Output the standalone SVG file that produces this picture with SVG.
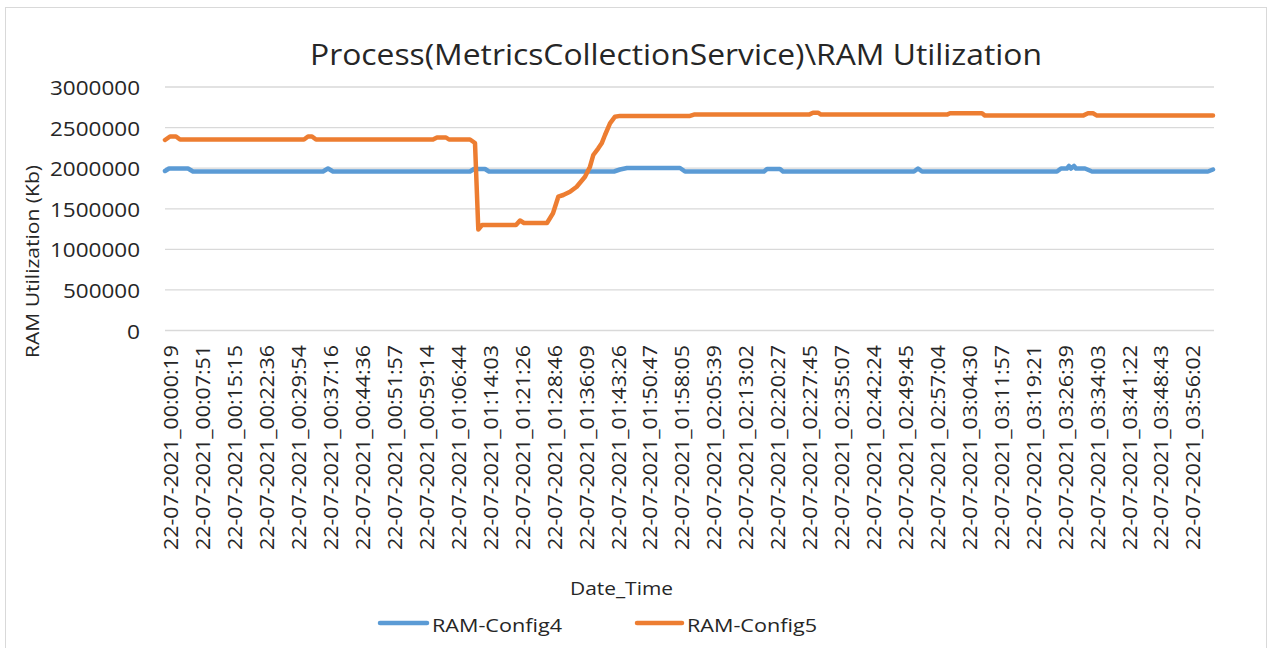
<svg xmlns="http://www.w3.org/2000/svg" width="1269" height="648" viewBox="0 0 1269 648">
  <style>
    text { font-family: "Open Sans", "Liberation Sans", sans-serif; fill: #262626; }
    .title { font-size: 30px; }
    .ytick { font-size: 20px; text-anchor: end; }
    .xtick { font-size: 20px; text-anchor: end; }
    .axis-title { font-size: 19px; text-anchor: middle; }
    .legend-text { font-size: 19px; }
    .grid line { stroke: #D9D9D9; stroke-width: 1.3; }
    .series { fill: none; stroke-width: 4.5; stroke-linejoin: round; stroke-linecap: round; }
    .s4 { stroke: #5B9BD5; }
    .s5 { stroke: #ED7D31; }
  </style>

  <!-- chart frame -->
  <rect x="5.5" y="7.5" width="1261" height="660" fill="#FFFFFF" stroke="#D9D9D9" stroke-width="1"/>

  <g id="title">
    <text class="title" x="676" y="65" text-anchor="middle" textLength="732" lengthAdjust="spacingAndGlyphs">Process(MetricsCollectionService)\RAM Utilization</text>
  </g>

  <!-- horizontal gridlines, 500000 apart -->
  <g id="gridlines" class="grid">
    <line x1="165" y1="87" x2="1214" y2="87"/>
    <line x1="165" y1="127.6" x2="1214" y2="127.6"/>
    <line x1="165" y1="168.2" x2="1214" y2="168.2"/>
    <line x1="165" y1="208.8" x2="1214" y2="208.8"/>
    <line x1="165" y1="249.3" x2="1214" y2="249.3"/>
    <line x1="165" y1="289.9" x2="1214" y2="289.9"/>
    <line x1="165" y1="330.5" x2="1214" y2="330.5"/>
  </g>

  <g id="y-axis">
    <text class="ytick" x="140" y="95" textLength="90" lengthAdjust="spacingAndGlyphs">3000000</text>
    <text class="ytick" x="140" y="135.6" textLength="90" lengthAdjust="spacingAndGlyphs">2500000</text>
    <text class="ytick" x="140" y="176.2" textLength="90" lengthAdjust="spacingAndGlyphs">2000000</text>
    <text class="ytick" x="140" y="216.8" textLength="90" lengthAdjust="spacingAndGlyphs">1500000</text>
    <text class="ytick" x="140" y="257.3" textLength="90" lengthAdjust="spacingAndGlyphs">1000000</text>
    <text class="ytick" x="140" y="297.9" textLength="77" lengthAdjust="spacingAndGlyphs">500000</text>
    <text class="ytick" x="140" y="338.5" textLength="13" lengthAdjust="spacingAndGlyphs">0</text>
    <text class="axis-title" transform="translate(39,261.5) rotate(-90)" textLength="193" lengthAdjust="spacingAndGlyphs">RAM Utilization (Kb)</text>
  </g>

  <g id="x-axis">
    <text class="xtick" transform="translate(178.3,345) rotate(-90)" textLength="205" lengthAdjust="spacingAndGlyphs">22-07-2021_00:00:19</text>
    <text class="xtick" transform="translate(210.2,345) rotate(-90)" textLength="205" lengthAdjust="spacingAndGlyphs">22-07-2021_00:07:51</text>
    <text class="xtick" transform="translate(242.2,345) rotate(-90)" textLength="205" lengthAdjust="spacingAndGlyphs">22-07-2021_00:15:15</text>
    <text class="xtick" transform="translate(274.1,345) rotate(-90)" textLength="205" lengthAdjust="spacingAndGlyphs">22-07-2021_00:22:36</text>
    <text class="xtick" transform="translate(306.1,345) rotate(-90)" textLength="205" lengthAdjust="spacingAndGlyphs">22-07-2021_00:29:54</text>
    <text class="xtick" transform="translate(338.0,345) rotate(-90)" textLength="205" lengthAdjust="spacingAndGlyphs">22-07-2021_00:37:16</text>
    <text class="xtick" transform="translate(369.9,345) rotate(-90)" textLength="205" lengthAdjust="spacingAndGlyphs">22-07-2021_00:44:36</text>
    <text class="xtick" transform="translate(401.9,345) rotate(-90)" textLength="205" lengthAdjust="spacingAndGlyphs">22-07-2021_00:51:57</text>
    <text class="xtick" transform="translate(433.8,345) rotate(-90)" textLength="205" lengthAdjust="spacingAndGlyphs">22-07-2021_00:59:14</text>
    <text class="xtick" transform="translate(465.8,345) rotate(-90)" textLength="205" lengthAdjust="spacingAndGlyphs">22-07-2021_01:06:44</text>
    <text class="xtick" transform="translate(497.7,345) rotate(-90)" textLength="205" lengthAdjust="spacingAndGlyphs">22-07-2021_01:14:03</text>
    <text class="xtick" transform="translate(529.6,345) rotate(-90)" textLength="205" lengthAdjust="spacingAndGlyphs">22-07-2021_01:21:26</text>
    <text class="xtick" transform="translate(561.6,345) rotate(-90)" textLength="205" lengthAdjust="spacingAndGlyphs">22-07-2021_01:28:46</text>
    <text class="xtick" transform="translate(593.5,345) rotate(-90)" textLength="205" lengthAdjust="spacingAndGlyphs">22-07-2021_01:36:09</text>
    <text class="xtick" transform="translate(625.5,345) rotate(-90)" textLength="205" lengthAdjust="spacingAndGlyphs">22-07-2021_01:43:26</text>
    <text class="xtick" transform="translate(657.4,345) rotate(-90)" textLength="205" lengthAdjust="spacingAndGlyphs">22-07-2021_01:50:47</text>
    <text class="xtick" transform="translate(689.3,345) rotate(-90)" textLength="205" lengthAdjust="spacingAndGlyphs">22-07-2021_01:58:05</text>
    <text class="xtick" transform="translate(721.3,345) rotate(-90)" textLength="205" lengthAdjust="spacingAndGlyphs">22-07-2021_02:05:39</text>
    <text class="xtick" transform="translate(753.2,345) rotate(-90)" textLength="205" lengthAdjust="spacingAndGlyphs">22-07-2021_02:13:02</text>
    <text class="xtick" transform="translate(785.2,345) rotate(-90)" textLength="205" lengthAdjust="spacingAndGlyphs">22-07-2021_02:20:27</text>
    <text class="xtick" transform="translate(817.1,345) rotate(-90)" textLength="205" lengthAdjust="spacingAndGlyphs">22-07-2021_02:27:45</text>
    <text class="xtick" transform="translate(849.0,345) rotate(-90)" textLength="205" lengthAdjust="spacingAndGlyphs">22-07-2021_02:35:07</text>
    <text class="xtick" transform="translate(881.0,345) rotate(-90)" textLength="205" lengthAdjust="spacingAndGlyphs">22-07-2021_02:42:24</text>
    <text class="xtick" transform="translate(912.9,345) rotate(-90)" textLength="205" lengthAdjust="spacingAndGlyphs">22-07-2021_02:49:45</text>
    <text class="xtick" transform="translate(944.9,345) rotate(-90)" textLength="205" lengthAdjust="spacingAndGlyphs">22-07-2021_02:57:04</text>
    <text class="xtick" transform="translate(976.8,345) rotate(-90)" textLength="205" lengthAdjust="spacingAndGlyphs">22-07-2021_03:04:30</text>
    <text class="xtick" transform="translate(1008.7,345) rotate(-90)" textLength="205" lengthAdjust="spacingAndGlyphs">22-07-2021_03:11:57</text>
    <text class="xtick" transform="translate(1040.7,345) rotate(-90)" textLength="205" lengthAdjust="spacingAndGlyphs">22-07-2021_03:19:21</text>
    <text class="xtick" transform="translate(1072.6,345) rotate(-90)" textLength="205" lengthAdjust="spacingAndGlyphs">22-07-2021_03:26:39</text>
    <text class="xtick" transform="translate(1104.6,345) rotate(-90)" textLength="205" lengthAdjust="spacingAndGlyphs">22-07-2021_03:34:03</text>
    <text class="xtick" transform="translate(1136.5,345) rotate(-90)" textLength="205" lengthAdjust="spacingAndGlyphs">22-07-2021_03:41:22</text>
    <text class="xtick" transform="translate(1168.4,345) rotate(-90)" textLength="205" lengthAdjust="spacingAndGlyphs">22-07-2021_03:48:43</text>
    <text class="xtick" transform="translate(1200.4,345) rotate(-90)" textLength="205" lengthAdjust="spacingAndGlyphs">22-07-2021_03:56:02</text>
    <text class="axis-title" x="621.5" y="595" textLength="103" lengthAdjust="spacingAndGlyphs">Date_Time</text>
  </g>

  <!-- data series -->
  <g id="series">
    <polyline id="ram-config4" class="series s4" points="165,171 169,168.5 188,168.5 193,171.5 323,171.5 328,168.5 333,171.5 470,171.5 474,169 485,169 489,171.5 614,171.5 620,169.5 627,168 680,168 685,171.5 764,171.5 767,169 780,169 783,171.5 914,171.5 918,168.5 922,171.5 1057,171.5 1061,168.5 1067,168.5 1069,166 1071,168.5 1074,166 1076,168.5 1085,168.5 1092,171.5 1208,171.5 1213,169.5"/>
    <polyline id="ram-config5" class="series s5" points="165,140 170,136.5 176,136.5 180,139.5 304,139.5 308,136.5 312,136.5 316,139.5 433,139.5 437,137.5 446,137.5 449,139.5 470,139.5 475,143 478.3,229.5 482,225 516,225 520,220.5 524,223 547,223 553,213.3 558.3,196.7 563.3,195 570,191.7 576.7,186.7 585,176.7 590,166.7 593.3,155 598.3,148.3 601.7,143.3 605,135 610,123.3 615,116.7 620,115.9 690,115.9 694,114.6 809,114.6 813,112.7 818,112.7 821,114.6 947,114.6 950,113.3 982,113.3 985,115.6 1083,115.6 1088,113.3 1093,113.3 1097,115.6 1213,115.6"/>
  </g>

  <g id="legend">
    <line x1="380" y1="623" x2="427" y2="623" stroke="#5B9BD5" stroke-width="4.5" stroke-linecap="round"/>
    <text class="legend-text" x="432" y="632" textLength="130" lengthAdjust="spacingAndGlyphs">RAM-Config4</text>
    <line x1="637" y1="623" x2="682" y2="623" stroke="#ED7D31" stroke-width="4.5" stroke-linecap="round"/>
    <text class="legend-text" x="687" y="632" textLength="130" lengthAdjust="spacingAndGlyphs">RAM-Config5</text>
  </g>
</svg>
